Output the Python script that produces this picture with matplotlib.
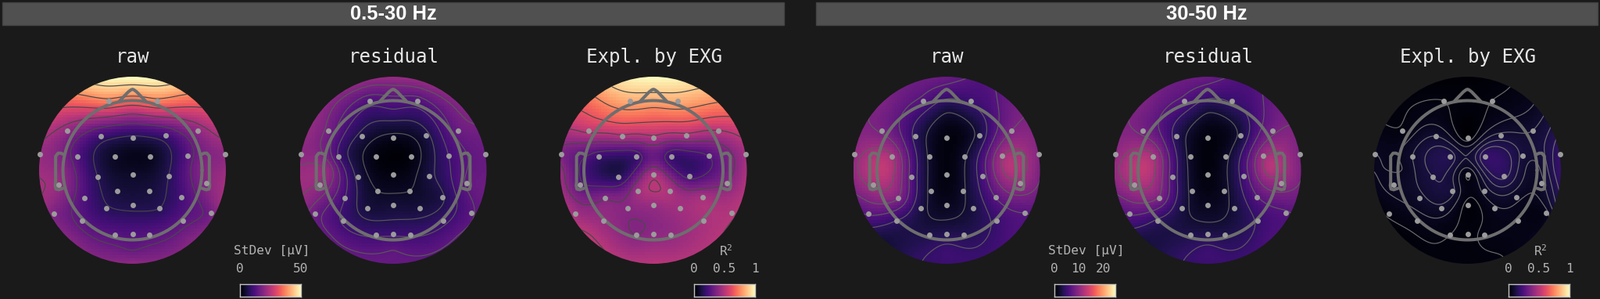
import numpy as np
import matplotlib
matplotlib.use("Agg")
import matplotlib.pyplot as plt
from matplotlib.patches import Circle, Rectangle

W, H = 2047, 382
BG = "#1a1a1a"
plt.rcParams["mathtext.default"] = "regular"

# sensor positions in head radii
sensor_x = np.array([-91, 93, -249, -121, 1, 126, 249, -353, -210, -67, 68, 212, 354, -281, -134, 1, 138, 282,
                     -184, -59, 63, 187, -300, -99, 1, 103, 300, -192, 192, -66, 1, 65]) / 266
sensor_y = np.array([265, 265, 150, 130, 123, 132, 152, 62, 52, 51, 52, 54, 60, -55, -24, -16, -22, -50,
                     -106, -79, -78, -104, -166, -146, -133, -145, -164, -192, -192, -246, -245, -246]) / 266

# spots without a sensor where the colour can still be read: left ear, right ear, forehead, back of head
spot_x = np.array([-.94, .92, 0, 0])
spot_y = np.array([.02, .05, .85, -1.15])

# values at the sensors, 0-1 on the colour bar
raw_low = [.72, .72, .40, .20, .13, .20, .40, .42, .25, .07, .06, .26, .40, .42, .15, .08, .15, .38,
           .24, .11, .11, .22, .36, .16, .13, .15, .33, .27, .27, .26, .25, .26]
res_low = [.24, .25, .33, .12, .05, .12, .31, .40, .21, .03, .03, .21, .31, .41, .12, .035, .12, .29,
           .21, .07, .07, .13, .31, .11, .10, .11, .27, .20, .19, .20, .20, .20]
exg_low = [.82, .82, .52, .48, .47, .47, .50, .35, .20, .20, .20, .25, .45, .27, .15, .47, .22, .38,
           .37, .45, .47, .46, .44, .39, .43, .45, .49, .42, .47, .38, .40, .41]
raw_high = [.25, .20, .35, .16, .03, .12, .36, .42, .46, .08, .08, .44, .38, .47, .24, .03, .23, .43,
            .36, .07, .08, .27, .28, .12, .06, .12, .27, .18, .20, .13, .14, .14]
res_high = [.25, .19, .34, .15, .03, .11, .34, .41, .46, .07, .07, .43, .36, .47, .23, .03, .22, .41,
            .35, .07, .07, .26, .28, .12, .06, .11, .26, .17, .19, .13, .13, .13]
exg_high = [.03, .03, .035, .09, .015, .10, .09, .06, .09, .14, .18, .11, .18, .07, .12, .03, .16, .08,
            .08, .10, .07, .07, .035, .08, .02, .055, .05, .045, .045, .03, .025, .035]

# values on the outer rim, clockwise from the top
rim_raw_low = [1.0, .92, .64, .47, .43, .42, .38, .37, .40, .37, .38, .42, .44, .47, .64, .92]
rim_res_low = [.42, .41, .38, .33, .31, .30, .29, .29, .30, .30, .30, .38, .43, .41, .39, .40]
rim_exg_low = [1.0, .93, .74, .52, .47, .50, .50, .49, .50, .49, .52, .46, .42, .46, .68, .92]
rim_raw_high = [.31, .25, .33, .38, .36, .30, .24, .20, .20, .16, .12, .30, .42, .38, .36, .32]
rim_res_high = [.31, .24, .31, .37, .36, .30, .24, .20, .20, .16, .13, .30, .42, .38, .36, .32]
rim_exg_high = [.01, .025, .06, .14, .19, .11, .05, .03, .025, .025, .02, .035, .06, .04, .025, .015]

# values at the four spots
spot_raw_low = [.36, .34, .50, .30]
spot_res_low = [.40, .24, .20, .28]
spot_exg_low = [.20, .28, .72, .45]
spot_raw_high = [.53, .50, .10, .20]
spot_res_high = [.53, .50, .10, .20]
spot_exg_high = [.06, .08, .02, .025]

map_titles = ["raw", "residual", "Expl. by EXG", "raw", "residual", "Expl. by EXG"]
map_values = [raw_low, res_low, exg_low, raw_high, res_high, exg_high]
rim_values = [rim_raw_low, rim_res_low, rim_exg_low, rim_raw_high, rim_res_high, rim_exg_high]
spot_values = [spot_raw_low, spot_res_low, spot_exg_low, spot_raw_high, spot_res_high, spot_exg_high]
map_levels = [[.15, .30, .45, .60, .75, .90],
              [.07, .14, .21, .28, .35, .42],
              [.25, .38, .50, .63, .75, .88],
              [.09, .18, .27, .36, .45],
              [.09, .18, .27, .36, .45],
              [.03, .06, .09, .12, .15]]
line_colors = ["#484848", "#585858", "#484848", "#5c5c5c", "#5c5c5c", "#6e6e6e"]
centers_x = [169.5, 503, 836, 1211, 1545, 1877.5]

band_labels = ["0.5-30 Hz", "30-50 Hz"]
cbar_titles = ["StDev [μV]", "R$^2$", "StDev [μV]", "R$^2$"]
cbar_ticks = [[0, 50], [0, 0.5, 1], [0, 10, 20], [0, 0.5, 1]]
cbar_max = [50, 1, 25, 1]
cbar_left = [307, 888, 1349, 1930]


def tps(px, py, val, qx, qy):
    # thin plate spline through the read values, numpy only
    def kernel(r):
        with np.errstate(divide="ignore", invalid="ignore"):
            return np.where(r > 0, r ** 2 * np.log(r), 0.0)
    n = len(px)
    K = kernel(np.hypot(px[:, None] - px[None, :], py[:, None] - py[None, :]))
    P = np.column_stack([np.ones(n), px, py])
    A = np.block([[K, P], [P.T, np.zeros((3, 3))]])
    coef = np.linalg.solve(A, np.r_[val, np.zeros(3)])
    Q = kernel(np.hypot(qx[..., None] - px, qy[..., None] - py))
    return Q @ coef[:n] + coef[n] + coef[n + 1] * qx + coef[n + 2] * qy


def add_axes_px(fig, left, top, width, height):
    return fig.add_axes([left / W, 1 - (top + height) / H, width / W, height / H])


fig = plt.figure(figsize=(W / 100, H / 100), dpi=100, facecolor=BG)

# header bars
bars = fig.add_axes([0, 0, 1, 1], zorder=0)
bars.set_xlim(0, W)
bars.set_ylim(H, 0)
bars.axis("off")
for left, right, label in zip([3, 1044], [1003, 2044], band_labels):
    bars.add_patch(Rectangle((left, 3), right - left, 29, fc="#505050", ec="#444444", lw=1))
    bars.text((left + right) / 2, 18, label, color="white", fontsize=18.4, fontweight="bold",
              family="Liberation Sans", ha="center", va="center")

rim_angle = np.deg2rad(np.arange(16) * 22.5)
extent = 119.5 / 89

for i, title in enumerate(map_titles):
    cx = centers_x[i]
    ax = add_axes_px(fig, cx - 119.5, 98, 239, 239)
    ax.set_xlim(-extent, extent)
    ax.set_ylim(-extent, extent)
    ax.set_aspect("equal")
    ax.axis("off")
    ax.patch.set_alpha(0)

    px = np.r_[sensor_x, spot_x, 1.36 * np.sin(rim_angle)]
    py = np.r_[sensor_y, spot_y, 1.36 * np.cos(rim_angle)]
    val = np.r_[map_values[i], spot_values[i], rim_values[i]]

    # image on a coarse grid, it looks blocky in the original too
    g = np.linspace(-extent, extent, 64)
    gx, gy = np.meshgrid(g, g)
    img = tps(px, py, val, gx, gy)
    clip = Circle((0, 0), extent, transform=ax.transData)
    im = ax.imshow(img, origin="lower", extent=(-extent, extent, -extent, extent), cmap="magma",
                   vmin=0, vmax=1, interpolation="nearest", zorder=1)
    im.set_clip_path(clip)

    f = np.linspace(-extent, extent, 200)
    fx, fy = np.meshgrid(f, f)
    cs = ax.contour(fx, fy, tps(px, py, val, fx, fy), levels=map_levels[i], colors=line_colors[i],
                    linewidths=0.85, zorder=2)
    cs.set_clip_path(clip)

    # head outline
    t = np.linspace(0, 2 * np.pi, 200)
    head = dict(color="#6e6e6e", lw=2.9, zorder=3, solid_capstyle="round", solid_joinstyle="round")
    ax.plot(np.cos(t), np.sin(t), **head)
    nose_x = np.array([-.19, -.06, -.02, 0, .02, .06, .19])
    nose_y = np.array([.99, 1.125, 1.155, 1.162, 1.155, 1.125, .99])
    ax.plot(nose_x, nose_y, **head)
    ear_x = np.array([.985, 1.03, 1.07, 1.105, 1.105, 1.11, 1.10, 1.06, 1.0])
    ear_y = np.array([.225, .245, .245, .2, -.17, -.22, -.27, -.28, -.26])
    ax.plot(ear_x, ear_y, **head)
    ax.plot(-ear_x, ear_y, **head)

    ax.scatter(sensor_x, sensor_y, s=25, color="#9b9b9b", linewidths=0, zorder=4, clip_on=False)

    fig.text((cx + 0.5) / W, 1 - 73 / H, title, color="#e6e6e6", fontsize=17.4, family="DejaVu Sans Mono",
             ha="center", va="center")

# colour bars
grad = np.linspace(0, 1, 256)[None, :]
for label, ticks, vmax, left in zip(cbar_titles, cbar_ticks, cbar_max, cbar_left):
    cax = add_axes_px(fig, left, 363, 78, 16)
    cax.imshow(grad, cmap="magma", aspect="auto", extent=(0, vmax, 0, 1))
    cax.set_xticks([])
    cax.set_yticks([])
    for sp in cax.spines.values():
        sp.set_color("#c4c4c4")
        sp.set_linewidth(1)
    for tick in ticks:
        fig.text((left + 78 * tick / vmax) / W, 1 - 344 / H, str(tick), color="#b4b4b4", fontsize=11.6,
                 family="DejaVu Sans Mono", ha="center", va="center")
    fig.text((left + 41) / W, 1 - 321 / H, label, color="#b4b4b4", fontsize=11.6,
             family="DejaVu Sans Mono", ha="center", va="center")

fig.savefig("out.png", dpi=100, facecolor=BG)
